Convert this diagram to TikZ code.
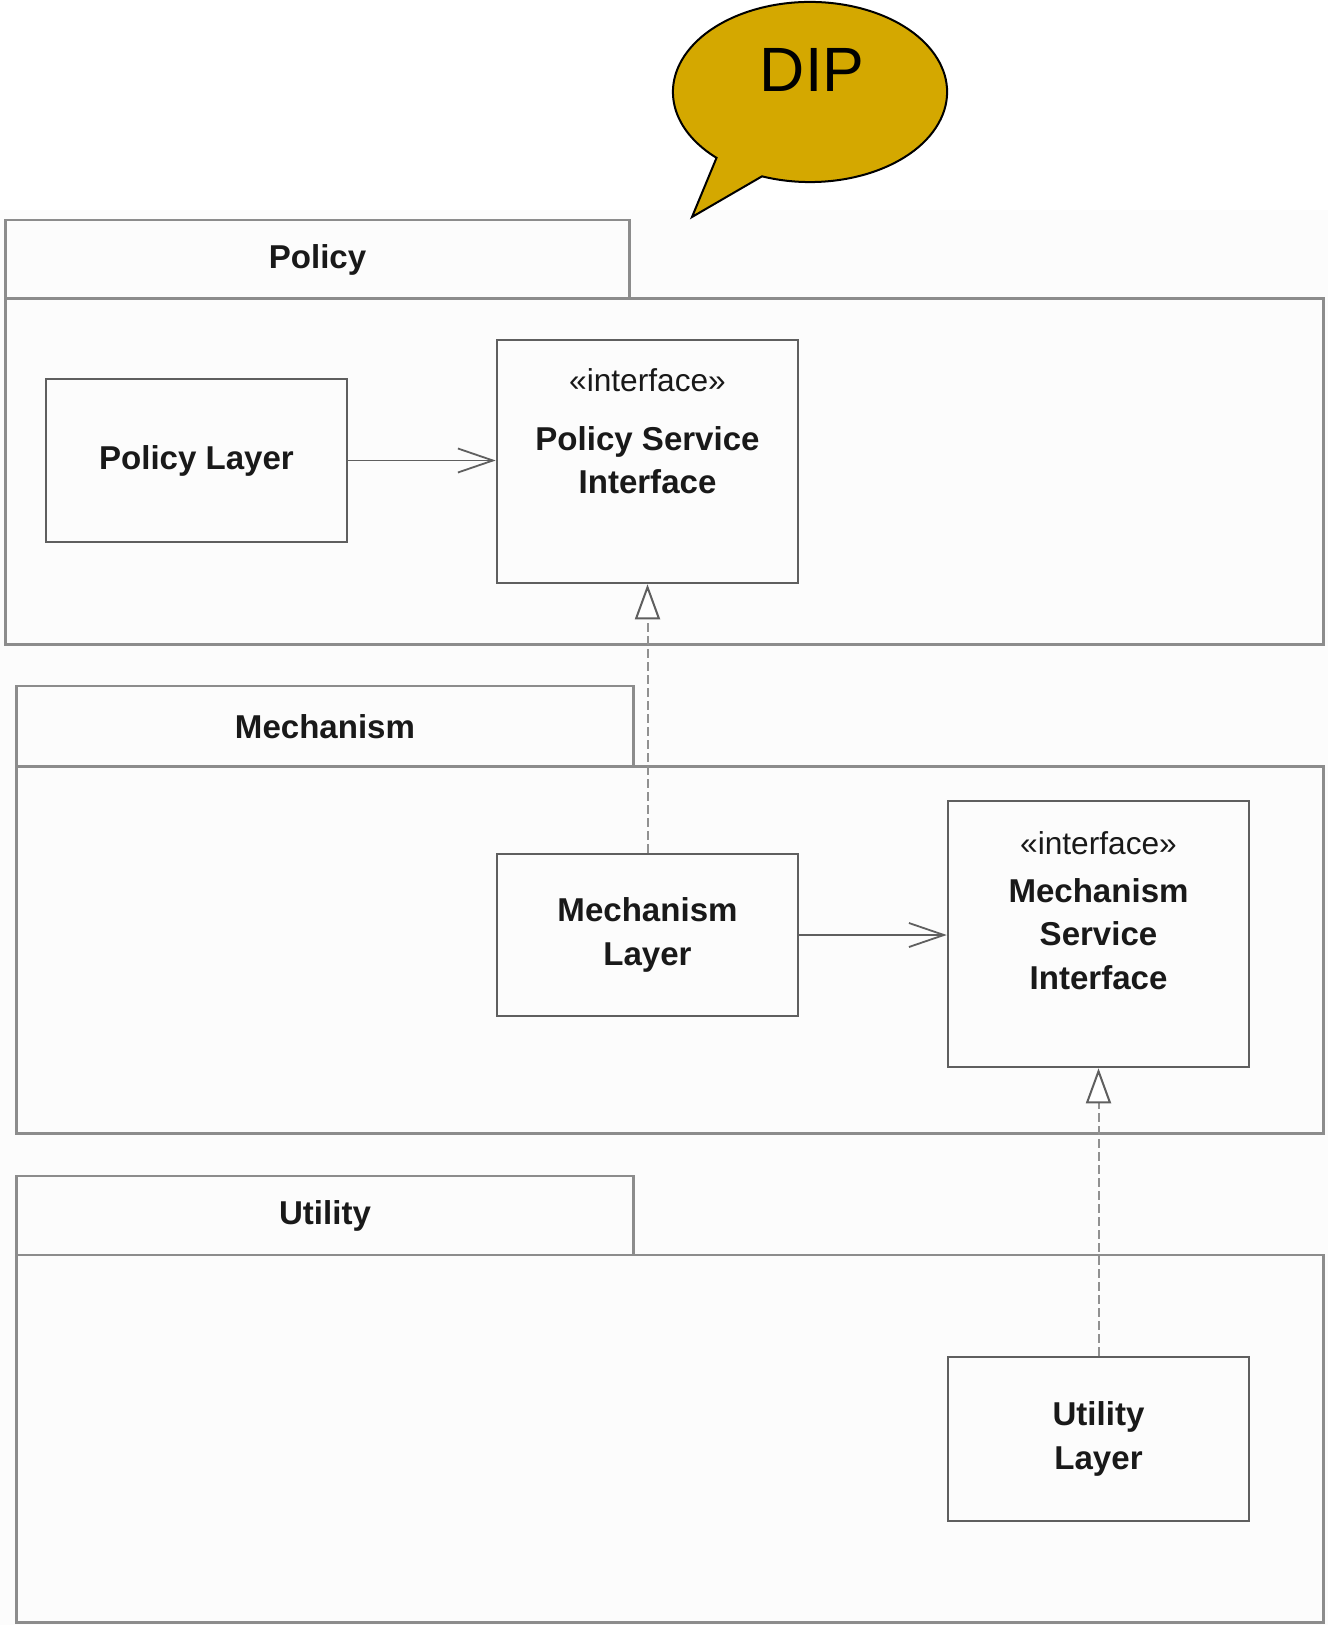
\documentclass[tikz,border=0pt]{standalone}
\usepackage{fontspec}
\setmainfont{Liberation Sans}
\usetikzlibrary{arrows.meta,calc}
\definecolor{dipgold}{RGB}{212,168,0}
\definecolor{boxline}{RGB}{95,95,95}
\definecolor{pkgline}{RGB}{140,140,140}
\definecolor{dashline}{RGB}{145,145,145}
\definecolor{ink}{RGB}{25,25,25}
\definecolor{paper}{RGB}{252,252,252}

\begin{document}
\begin{tikzpicture}[x=0.01cm,y=-0.01cm,
  pkgbox/.style={draw=pkgline, line width=0.028cm, inner sep=0pt},
  classbox/.style={draw=boxline, line width=0.024cm, minimum width=3.01cm, inner sep=0pt},
  boldtext/.style={font=\bfseries\fontsize{9.4}{12.4}\selectfont, text=ink, align=center},
  stereo/.style={font=\fontsize{9}{11}\selectfont, text=ink},
  uses/.style={draw=boxline, line width=0.018cm,
    -{Straight Barb[length=0.35cm, width=0.24cm, line width=0.018cm]}},
  realizes/.style={draw=dashline, line width=0.02cm, dash pattern=on 0.09cm off 0.04cm,
    -{Triangle[length=0.35cm, width=0.25cm, line width=0.02cm, color=boxline, fill=white]}},
  bubble/.style={draw=black, line width=0.02cm, fill=dipgold, line join=miter},
]
\useasboundingbox (0,0) rectangle (1328,1625);
\fill[paper] (0,210) rectangle (1328,1625);

% speech bubble
\coordinate (dipc) at (810,92);
\coordinate (diptip) at (692,217);
\draw[bubble] ($(dipc)+(249.5:1.37cm and 0.90cm)$)
  arc[start angle=249.5, end angle=587, x radius=1.37cm, y radius=0.90cm]
  -- (diptip) -- cycle;
\node[font=\fontsize{17.8}{20}\selectfont, text=black] (dip) at (812,70) {DIP};

% packages
\node[pkgbox, minimum width=13.17cm, minimum height=3.45cm] (polbody) at (664.5,471.5) {};
\node[pkgbox, minimum width=6.23cm, minimum height=0.79cm, boldtext] (poltab) at (317.5,259.5) {Policy};

\node[pkgbox, minimum width=13.06cm, minimum height=3.66cm] (mecbody) at (670,950) {};
\node[pkgbox, minimum width=6.16cm, minimum height=0.81cm, boldtext] (mectab) at (325,726.5) {Mechanism};

\node[pkgbox, minimum width=13.06cm, minimum height=3.67cm] (utlbody) at (670,1438.5) {};
\node[pkgbox, minimum width=6.16cm, minimum height=0.79cm, boldtext] (utltab) at (325,1215.5) {Utility};

% classes
\node[classbox, minimum height=1.63cm, boldtext] (pl) at (196.5,460.5) {Policy Layer};
\node[classbox, minimum height=2.43cm] (psi) at (647.5,461.5) {};
\node[stereo] (psist) at (647.5,380) {«interface»};
\node[boldtext] (psiname) at (647.5,460) {Policy Service\\Interface};

\node[classbox, minimum height=1.62cm, boldtext] (ml) at (647.5,935) {Mechanism\\Layer};
\node[classbox, minimum height=2.66cm] (msi) at (1098.5,934) {};
\node[stereo] (msist) at (1098.5,843) {«interface»};
\node[boldtext] (msiname) at (1098.5,934) {Mechanism\\Service\\Interface};

\node[classbox, minimum height=1.64cm, boldtext] (ul) at (1098.5,1439) {Utility\\Layer};

% dependencies
\draw[uses] (pl.east) -- (pl.east -| psi.west);
\draw[uses] (ml.east) -- (ml.east -| msi.west);
\draw[realizes] (ml.north) -- (psi.south);
\draw[realizes] (ul.north) -- (msi.south);
\end{tikzpicture}
\end{document}
